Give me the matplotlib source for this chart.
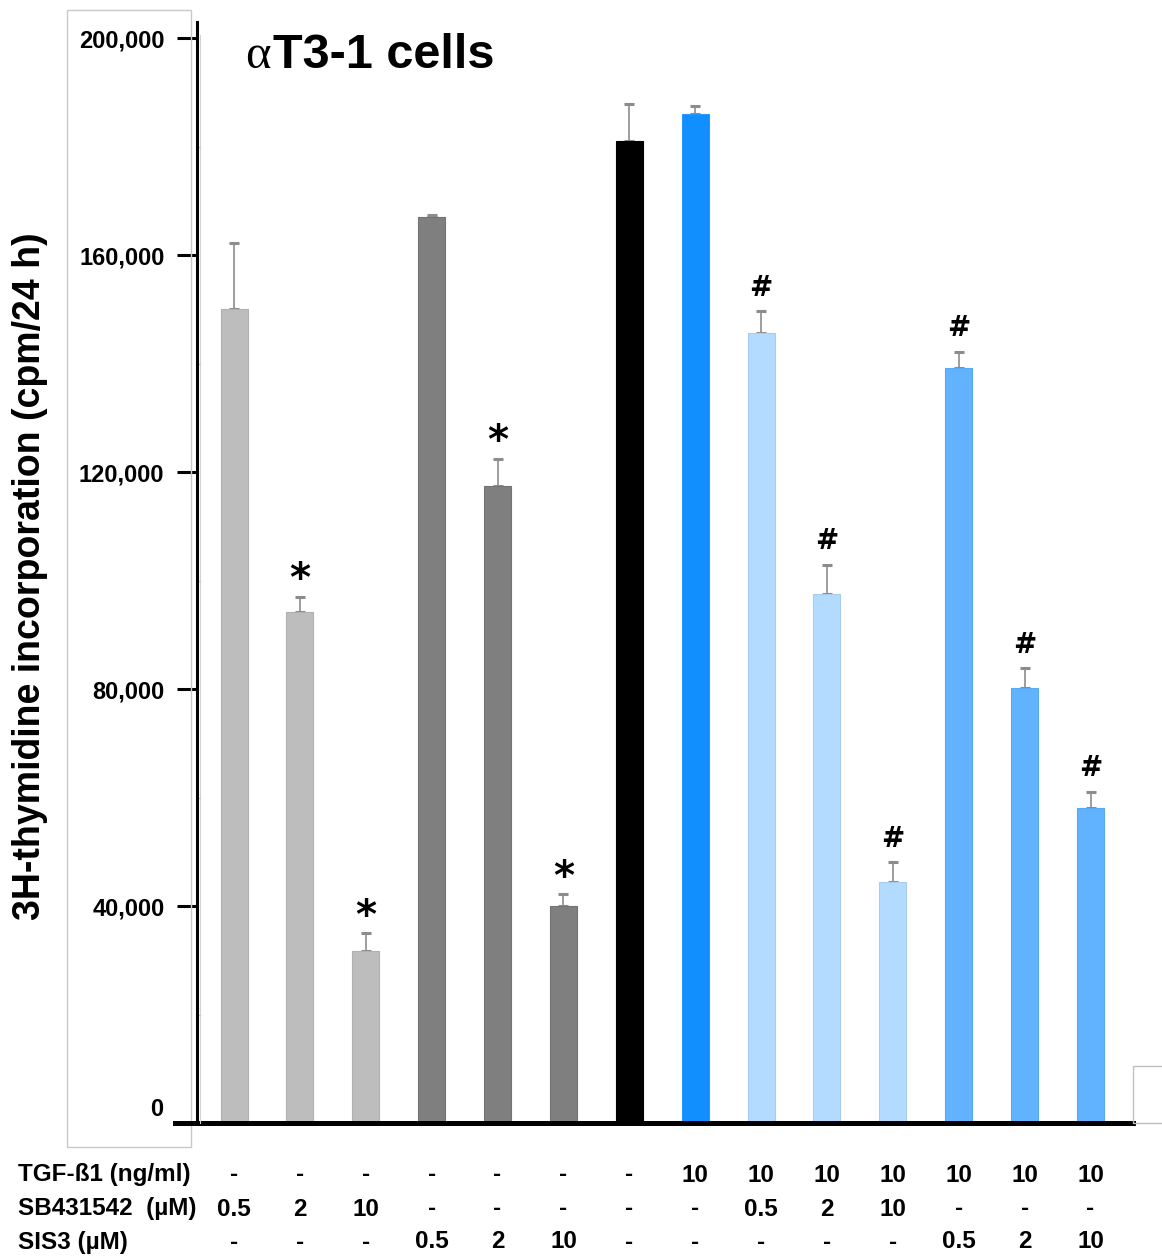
import numpy as np
import matplotlib
matplotlib.use("Agg")
import matplotlib.pyplot as plt
from matplotlib.patches import Rectangle
from matplotlib.lines import Line2D
from matplotlib.ticker import MultipleLocator, FixedLocator
from matplotlib import transforms

plt.rcParams['font.family'] = ['Liberation Sans', 'DejaVu Sans']
plt.rcParams['font.weight'] = 'bold'

# 3H-thymidine incorporation, mean and SEM (cpm / 24 h)
means = [150000, 94200, 31700, 167000, 117400, 40000, 181000,
         186000, 145600, 97500, 44400, 139200, 80200, 58100]
sems = [12200, 2800, 3300, 400, 5000, 2200, 6800,
        1500, 4100, 5400, 3700, 3000, 3700, 3000]
marks = ['', '*', '*', '', '*', '*', '', '', '#', '#', '#', '#', '#', '#']

bar_colors = (['#bdbdbd'] * 3 + ['#7f7f7f'] * 3 + ['#000000', '#118eff']
              + ['#b3daff'] * 3 + ['#62b3ff'] * 3)
edge_colors = (['#b0b0b0'] * 3 + ['#747474'] * 3 + ['#000000', '#2a97ff']
               + ['#a6cdef'] * 3 + ['#58aaf0'] * 3)

row_names = ['TGF-ß1 (ng/ml)', 'SB431542  (µM)', 'SIS3 (µM)']
tgf = ['-', '-', '-', '-', '-', '-', '-', '10', '10', '10', '10', '10', '10', '10']
sb = ['0.5', '2', '10', '-', '-', '-', '-', '-', '0.5', '2', '10', '-', '-', '-']
sis3 = ['-', '-', '-', '0.5', '2', '10', '-', '-', '-', '-', '-', '0.5', '2', '10']

yticks = [0, 40000, 80000, 120000, 160000, 200000]

W, H = 1162, 1257


def fx(px):
    return px / W


def fy(py):
    return 1 - py / H


fig = plt.figure(figsize=(W / 100, H / 100), dpi=100)
ax = fig.add_axes([fx(197), fy(1123), (1133 - 197) / W, (1123 - 22) / H])

x = np.arange(len(means))
ax.bar(x, means, width=0.41, color=bar_colors, edgecolor=edge_colors,
       linewidth=0.8, zorder=2)
eb = ax.errorbar(x, means, yerr=[np.zeros(len(x)), sems], fmt='none',
                 ecolor='#8c8c8c', elinewidth=1.2, capsize=3.5, capthick=2.2,
                 zorder=1)
for cap in eb[1]:
    cap.set_color('#505050')

for xi, m, s, mk in zip(x, means, sems, marks):
    if mk == '*':
        ax.annotate('*', (xi, m + s), xytext=(0, 4), textcoords='offset points',
                    ha='center', va='baseline', fontsize=29,
                    family='DejaVu Sans', fontweight='bold')
    elif mk == '#':
        ax.annotate('#', (xi, m + s), xytext=(0, 11), textcoords='offset points',
                    ha='center', va='baseline', fontsize=20,
                    family='DejaVu Sans', fontweight='bold')

ax.set_xlim(-0.562, 13.645)
ax.set_ylim(0, 202950)
ax.set_xticks([])
ax.yaxis.set_major_locator(FixedLocator(yticks))
ax.set_yticklabels([''] + ['{:,}'.format(t) for t in yticks[1:]])
ax.yaxis.set_minor_locator(MultipleLocator(20000))
ax.tick_params(axis='y', which='major', direction='out', length=14.4,
               width=2.2, pad=9, labelsize=17)
ax.tick_params(axis='y', which='minor', direction='in', length=3,
               width=0.8, color='#c4c4c4')
for side in ['top', 'right']:
    ax.spines[side].set_visible(False)
ax.spines['left'].set_linewidth(2.2)
ax.spines['bottom'].set_linewidth(3.6)

# zero label sits a little above the baseline
fig.text(fx(163), fy(1110), '0', ha='right', va='center', fontsize=17)

# baseline continues left of the y axis
fig.add_artist(Line2D([fx(175), fx(197)], [fy(1123), fy(1123)],
                      color='black', lw=3.6, transform=fig.transFigure))
# faint inner axis of the plot area
fig.add_artist(Line2D([fx(200), fx(200)], [fy(1123), fy(35)],
                      color='#d2d2d2', lw=0.8, transform=fig.transFigure))

# boxes around the label column and at the lower right
fig.add_artist(Rectangle((fx(67), fy(1147)), (191 - 67) / W, (1147 - 10) / H,
                         transform=fig.transFigure, fill=False,
                         edgecolor='#c8c8c8', lw=1))
fig.add_artist(Rectangle((fx(1133), fy(1123)), 0.05, (1123 - 1066) / H,
                         transform=fig.transFigure, fill=False,
                         edgecolor='#c0c0c0', lw=1))

# title
fig.text(fx(271), fy(68), 'α', ha='right', va='baseline', fontsize=35,
         family='Liberation Serif', fontweight='normal')
fig.text(fx(273), fy(68), 'T3-1 cells', ha='left', va='baseline', fontsize=35)

fig.text(fx(30), fy(576), '3H-thymidine incorporation (cpm/24 h)',
         rotation=90, ha='center', va='center', fontsize=27)

# treatment table under the bars
blend = transforms.blended_transform_factory(ax.transData, fig.transFigure)
row_y = [1175, 1209, 1242]
for name, vals, py in zip(row_names, [tgf, sb, sis3], row_y):
    fig.text(fx(18), fy(py), name, ha='left', va='center', fontsize=17.5)
    for xi, v in zip(x, vals):
        ax.text(xi, fy(py), v, transform=blend, ha='center', va='center',
                fontsize=17.5, clip_on=False)

fig.savefig('out.png', dpi=100)
